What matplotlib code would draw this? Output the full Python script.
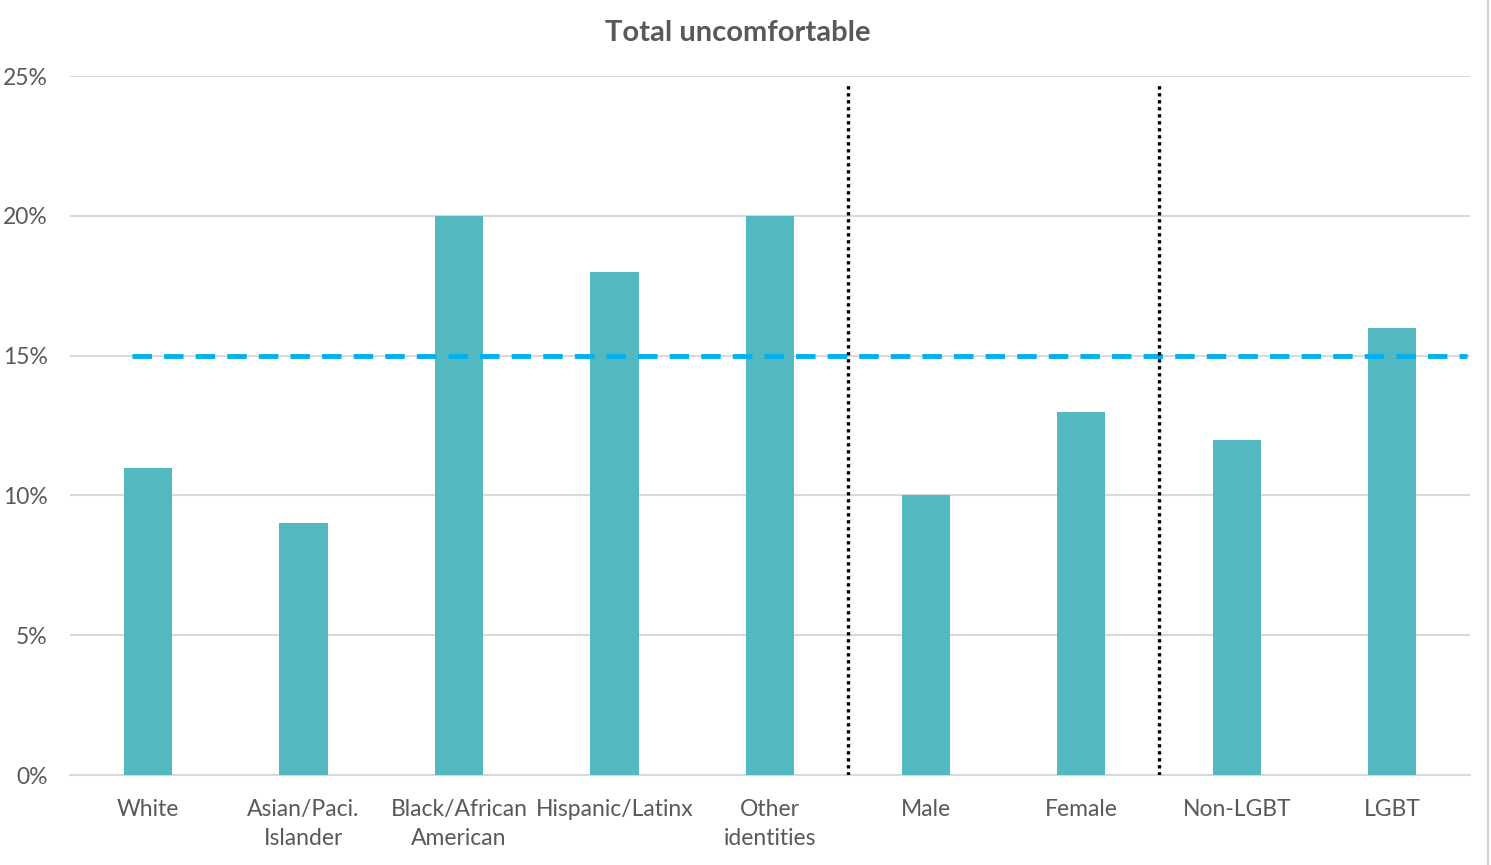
import matplotlib
matplotlib.use("Agg")
import matplotlib.pyplot as plt
from matplotlib.ticker import PercentFormatter, FixedLocator
from matplotlib.lines import Line2D

categories = ["White", "Asian/Paci.\nIslander", "Black/African\nAmerican", "Hispanic/Latinx",
              "Other\nidentities", "Male", "Female", "Non-LGBT", "LGBT"]
values = [0.11, 0.09, 0.20, 0.18, 0.20, 0.10, 0.13, 0.12, 0.16]
benchmark = 0.15
separators = [4.5, 6.5]
title = "Total uncomfortable"

plt.rcParams['font.family'] = ['Lato', 'DejaVu Sans']
text_color = "#595959"

fig = plt.figure(figsize=(14.91, 8.65), dpi=100)
ax = fig.add_axes([0.047, 0.104, 0.939, 0.808])

x = list(range(len(categories)))
ax.bar(x, values, width=0.31, color="#53B9C0", zorder=3)
ax.plot([-0.1, len(categories) - 0.52], [benchmark, benchmark], color="#00B0F0",
        lw=3.5, dashes=(4, 2.5), zorder=4)
for s in separators:
    ax.plot([s, s], [0, 0.248], color="black", lw=2.4, linestyle=(0, (1, 1.1)), zorder=5)

ax.set_xlim(-0.5, len(categories) - 0.5)
ax.set_ylim(0, 0.25)
ax.yaxis.set_major_locator(FixedLocator([0, 0.05, 0.10, 0.15, 0.20, 0.25]))
ax.yaxis.set_major_formatter(PercentFormatter(1.0, decimals=0))
ax.grid(axis="y", color="#D9D9D9", lw=1.5, zorder=0)
ax.set_axisbelow(True)
for sp in ["top", "right", "left"]:
    ax.spines[sp].set_visible(False)
ax.spines["bottom"].set_color("#D9D9D9")
ax.spines["bottom"].set_linewidth(1.5)
ax.set_xticks(x)
ax.set_xticklabels(categories, fontsize=16.5, color=text_color, linespacing=1.5)
ax.tick_params(axis="x", length=0, pad=17)
ax.tick_params(axis="y", length=0, labelsize=16.5, labelcolor=text_color, pad=16)

fig.text(0.495, 0.962, title, ha="center", va="center", fontsize=21,
         fontweight="bold", color=text_color)

fig.add_artist(Line2D([0.998, 0.998], [0.0, 1.0], color="#D0D0D0", lw=1.5,
                      transform=fig.transFigure))

fig.savefig("out.png", dpi=100)
